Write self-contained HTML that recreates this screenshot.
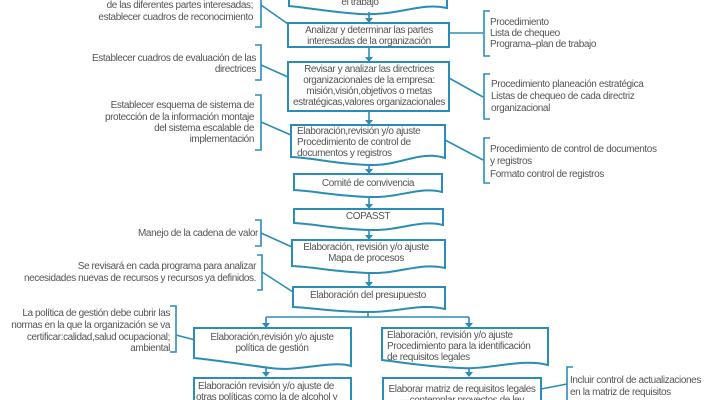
<!DOCTYPE html>
<html><head><meta charset="utf-8"><style>
html,body{margin:0;padding:0;background:#fff;}
svg{display:block;}
text{font-family:"Liberation Sans",sans-serif;font-size:10px;letter-spacing:-0.4px;fill:#555;}
.s{fill:#fff;stroke:#2a8db5;stroke-width:2;}
.l{fill:none;stroke:#2a8db5;stroke-width:1.6;}
.a{fill:#2a8db5;}
</style></head><body>
<svg width="715" height="400" viewBox="0 0 715 400" xmlns="http://www.w3.org/2000/svg">
<path class="s" d="M289,-5 H447 V8 C420,2 400,16 360,14 C330,12 310,8 289,6 Z"/>
<text x="360" y="5" text-anchor="middle">el trabajo</text>
<g class="l"><path d="M369,12 V20"/><path d="M369,47 V58"/><path d="M369,111 V121"/><path d="M369,163 V171"/><path d="M369,197 V206"/><path d="M369,229 V237"/><path d="M369,272 V284"/></g>
<g class="a">
<path d="M365,18 h8 l-4,5z"/><path d="M365,57 h8 l-4,5z"/><path d="M365,120 h8 l-4,5z"/><path d="M365,169 h8 l-4,5z"/><path d="M365,204 h8 l-4,5z"/><path d="M365,235 h8 l-4,5z"/><path d="M365,282 h8 l-4,5z"/>
</g>
<rect class="s" x="288" y="23" width="161" height="24"/>
<text x="369" y="33" text-anchor="middle">Analizar y determinar las partes</text>
<text x="369" y="44" text-anchor="middle">interesadas de la organización</text>
<rect class="s" x="288" y="62" width="161" height="49"/>
<text x="369" y="72" text-anchor="middle">Revisar y analizar las directrices</text>
<text x="369" y="83" text-anchor="middle">organizacionales de la empresa:</text>
<text x="369" y="94" text-anchor="middle">misión,visión,objetivos o metas</text>
<text x="369" y="105" text-anchor="middle">estratégicas,valores organizacionales</text>
<path class="s" d="M291,125 H445 V158 C420,150 400,166 370,165 C335,164 315,158 291,157 Z"/>
<text x="297" y="134">Elaboración,revisión y/o ajuste</text>
<text x="297" y="145">Procedimiento de control de</text>
<text x="297" y="156">documentos y registros</text>
<path class="s" d="M294,174 H442 V192 C420,186 400,198 370,197 C335,196 315,191 294,190 Z"/>
<text x="368" y="186" text-anchor="middle">Comité de convivencia</text>
<path class="s" d="M294,209 H443 V225 C420,219 400,231 370,230 C335,229 315,224 294,223 Z"/>
<text x="368" y="219" text-anchor="middle">COPASST</text>
<path class="s" d="M292,240 H445 V268 C420,262 400,274 370,273 C335,272 315,267 292,266 Z"/>
<text x="366" y="250" text-anchor="middle">Elaboración, revisión y/o ajuste</text>
<text x="366" y="261" text-anchor="middle">Mapa de procesos</text>
<path class="s" d="M293,287 H445 V309 C420,303 400,312 370,312 C335,312 315,308 293,307 Z"/>
<text x="368" y="298" text-anchor="middle">Elaboración del presupuesto</text>
<path class="l" d="M368,311 V317 M266,317 H469 M266,317 V325 M469,317 V325 M266,366 V374 M469,366 V374"/>
<g class="a"><path d="M262,323 h8 l-4,5z"/><path d="M465,323 h8 l-4,5z"/><path d="M262,372 h8 l-4,5z"/><path d="M465,372 h8 l-4,5z"/></g>
<path class="s" d="M194,328 H351 V366 C330,360 300,372 270,368 C240,364 215,360 194,358 Z"/>
<text x="272" y="340" text-anchor="middle">Elaboración,revisión y/o ajuste</text>
<text x="272" y="351" text-anchor="middle">política de gestión</text>
<rect class="s" x="194" y="378" width="157" height="30"/>
<text x="198" y="389">Elaboración revisión y/o ajuste de</text>
<text x="196" y="400">otras políticas como la de alcohol y</text>
<path class="s" d="M382,328 H548 V365 C520,358 490,370 460,368 C420,366 400,362 382,360 Z"/>
<text x="387" y="338">Elaboración, revisión y/o ajuste</text>
<text x="387" y="349">Procedimiento para la identificación</text>
<text x="387" y="360">de requisitos legales</text>
<rect class="s" x="383" y="378" width="158" height="30"/>
<text x="462" y="392" text-anchor="middle">Elaborar matriz de requisitos legales</text>
<text x="462" y="403" text-anchor="middle">—contemplar proyectos de ley</text>
<g class="l">
<path d="M449,33 H483 M490,11 H484 V56 H490"/>
<path d="M449,78 L483,97 M490,74 H484 V119 H490"/>
<path d="M445,140 L483,160 M490,138 H484 V183 H490"/>
<path d="M541,389 L567,384 M573,367 H567 V402"/>
<path d="M255,-2 H261 V27 H255 M261,5 L288,24"/>
<path d="M255,45 H261 V80 H255 M261,65 L288,77"/>
<path d="M255,95 H261 V150 H255 M261,122 L291,135"/>
<path d="M255,220 H261 V246 H255 M261,233 L292,247"/>
<path d="M257,255 H262 V290 H257 M262,272 L293,292"/>
<path d="M170,306 H176 V352 H170 M176,335 L195,340"/>
</g>
<text x="490" y="25">Procedimiento</text>
<text x="490" y="36">Lista de chequeo</text>
<text x="490" y="47">Programa–plan de trabajo</text>
<text x="491" y="87">Procedimiento planeación estratégica</text>
<text x="491" y="99">Listas de chequeo de cada directriz</text>
<text x="491" y="111">organizacional</text>
<text x="490" y="152">Procedimiento de control de documentos</text>
<text x="490" y="164">y registros</text>
<text x="490" y="177">Formato control de registros</text>
<text x="570" y="383">Incluir control de actualizaciones</text>
<text x="570" y="395">en la matriz de requisitos</text>
<g text-anchor="end">
<text x="253" y="8">de las diferentes partes interesadas;</text>
<text x="253" y="20">establecer cuadros de reconocimiento</text>
<text x="256" y="61">Establecer cuadros de evaluación de las</text>
<text x="256" y="72">directrices</text>
<text x="254" y="108">Establecer esquema de sistema de</text>
<text x="254" y="120">protección de la información montaje</text>
<text x="254" y="131">del sistema escalable de</text>
<text x="254" y="142">implementación</text>
<text x="258" y="236">Manejo de la cadena de valor</text>
<text x="256" y="269">Se revisará en cada programa para analizar</text>
<text x="256" y="281">necesidades nuevas de recursos y recursos ya definidos.</text>
<text x="170" y="316">La política de gestión debe cubrir las</text>
<text x="170" y="328">normas en la que la organización se va</text>
<text x="170" y="340">certificar:calidad,salud ocupacional;</text>
<text x="170" y="351">ambiental</text>
</g>
</svg>
</body></html>
